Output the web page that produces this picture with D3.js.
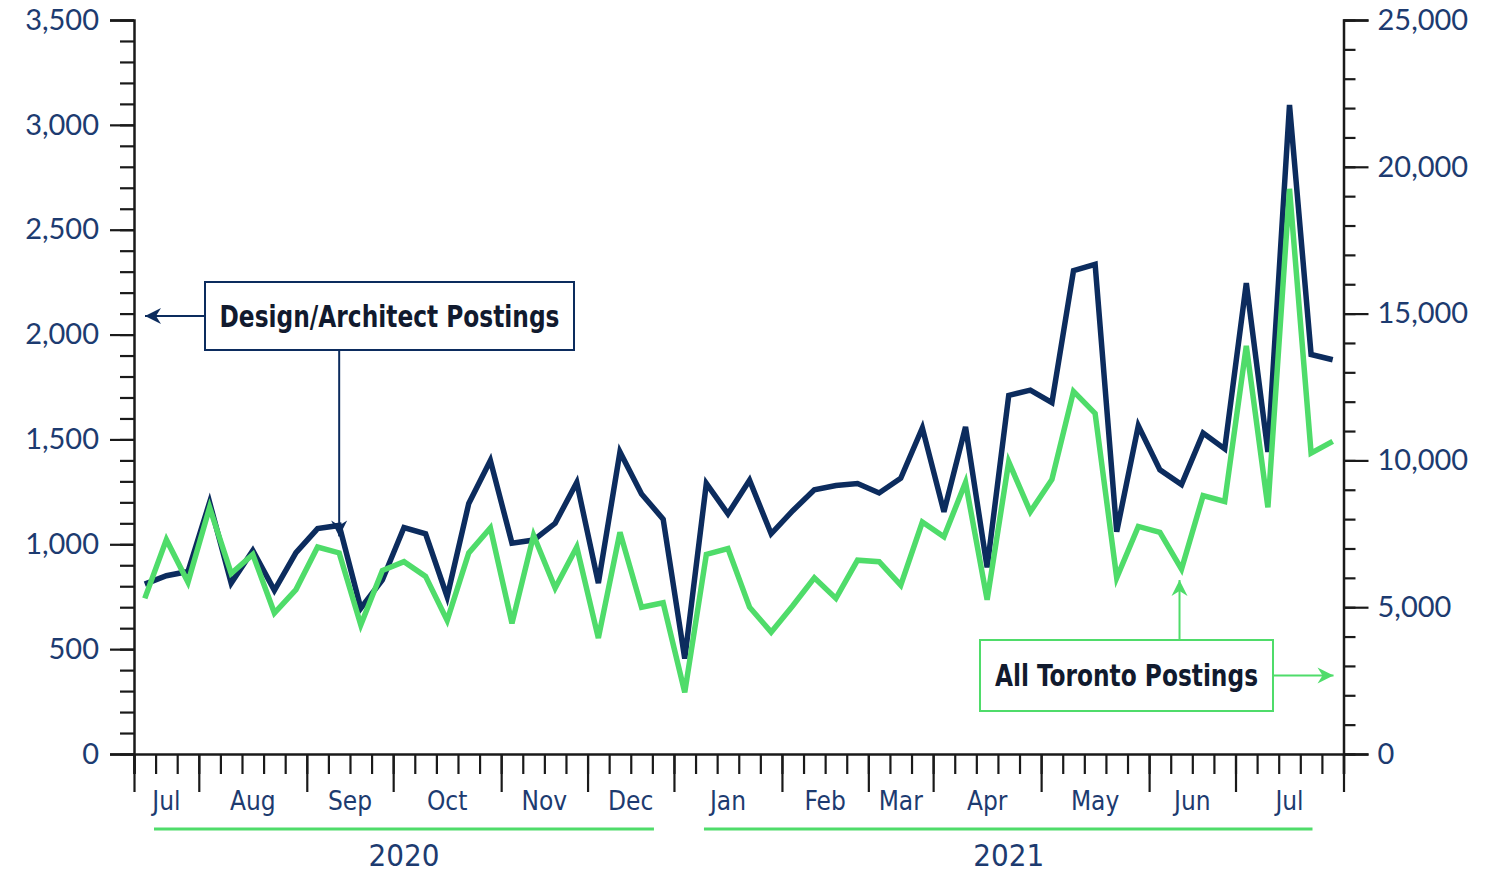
<!DOCTYPE html>
<html>
<head>
<meta charset="utf-8">
<script src="https://cdn.jsdelivr.net/npm/d3@7"></script>
<style>
  body { margin: 0; background: #fff; }
  svg { display: block; }
  .narrow { font-family: "Liberation Sans Narrow", "DejaVu Sans Condensed", "Liberation Sans", sans-serif; font-stretch: condensed; }
</style>
</head>
<body>
<svg></svg>
<script>
// months shown on the axis and how many weekly points each one holds
var monthNames = ["Jul", "Aug", "Sep", "Oct", "Nov", "Dec", "Jan", "Feb", "Mar", "Apr", "May", "Jun", "Jul"];
var monthWeeks = [3, 5, 4, 5, 4, 4, 5, 4, 3, 5, 5, 4, 5];
var yearNames = ["2020", "2021"];
var yearMonths = [6, 7];

// weekly postings, Design/Architect (left axis)
var designPostings = [810, 850, 870, 1200, 815, 970, 780, 960, 1075, 1090,
    695, 830, 1080, 1050, 750, 1195, 1400, 1005, 1020, 1100,
    1295, 815, 1440, 1240, 1120, 455, 1290, 1145, 1305, 1050,
    1160, 1260, 1280, 1290, 1245, 1315, 1555, 1155, 1560, 890,
    1710, 1735, 1675, 2305, 2335, 1060, 1565, 1355, 1285, 1530,
    1455, 2245, 1440, 3095, 1905, 1880];

// weekly postings, all of Toronto (right axis)
var torontoPostings = [5300, 7300, 5850, 8400, 6150, 6800, 4800, 5600, 7050, 6850,
    4400, 6250, 6550, 6050, 4550, 6850, 7700, 4450, 7450, 5650,
    7050, 3950, 7550, 5000, 5150, 2100, 6800, 7000, 5000, 4150,
    5050, 6000, 5300, 6600, 6550, 5750, 7900, 7400, 9250, 5250,
    9950, 8250, 9350, 12350, 11600, 6000, 7750, 7550, 6300, 8800,
    8600, 13900, 8400, 19250, 10250, 10650];

var leftTicks = [0, 500, 1000, 1500, 2000, 2500, 3000, 3500];
var rightTicks = [0, 5000, 10000, 15000, 20000, 25000];

var navy = "#0c2c5e",
    green = "#4fdc6a",
    labelColor = "#1d3b70";

var width = 1496, height = 873;
var plot = { left: 134, right: 1343.5, top: 20, bottom: 754 };

var svg = d3.select("svg").attr("width", width).attr("height", height);
svg.append("rect").attr("width", width).attr("height", height).attr("fill", "#fff");

var nWeeks = designPostings.length;

// x: week edges on a linear scale, points sit in the middle of each week
var xEdge = d3.scaleLinear().domain([0, nWeeks]).range([plot.left, plot.right]);
var xPoint = i => xEdge(i + 0.5);

var yLeft = d3.scaleLinear().domain([0, 3500]).range([plot.bottom, plot.top]);
var yRight = d3.scaleLinear().domain([0, 25000]).range([plot.bottom, plot.top]);

var fmt = d3.format(",");

// month boundaries (in weeks)
var monthEdges = [0];
monthWeeks.forEach(w => monthEdges.push(monthEdges[monthEdges.length - 1] + w));

// ---- left axis
svg.append("g")
    .attr("transform", "translate(" + plot.left + ",0)")
    .call(d3.axisLeft(yLeft).tickValues(d3.range(0, 3501, 100)).tickSize(14).tickFormat(""))
    .call(g => g.select(".domain").remove());
svg.append("g")
    .attr("class", "y-left")
    .attr("transform", "translate(" + plot.left + ",0)")
    .call(d3.axisLeft(yLeft).tickValues(leftTicks).tickSize(24).tickPadding(11).tickFormat(fmt));

// ---- right axis
svg.append("g")
    .attr("transform", "translate(" + plot.right + ",0)")
    .call(d3.axisRight(yRight).tickValues(d3.range(0, 25001, 1000)).tickSize(12).tickFormat(""))
    .call(g => g.select(".domain").remove());
svg.append("g")
    .attr("class", "y-right")
    .attr("transform", "translate(" + plot.right + ",0)")
    .call(d3.axisRight(yRight).tickValues(rightTicks).tickSize(25).tickPadding(9).tickFormat(fmt));

// ---- bottom axis: weekly ticks, longer ticks at month starts
svg.append("g")
    .attr("transform", "translate(0," + plot.bottom + ")")
    .call(d3.axisBottom(xEdge).tickValues(d3.range(0, nWeeks + 1)).tickSize(20).tickFormat(""));
svg.append("g")
    .attr("transform", "translate(0," + plot.bottom + ")")
    .call(d3.axisBottom(xEdge).tickValues(monthEdges).tickSize(38).tickFormat(""))
    .call(g => g.select(".domain").remove());

svg.selectAll(".tick line, .domain")
    .attr("stroke", "#1a1a1a")
    .attr("stroke-width", 2.2);
svg.selectAll(".domain").attr("stroke-width", 2.5);

svg.selectAll(".y-left text, .y-right text")
    .attr("fill", labelColor)
    .attr("font-family", null)
    .style("font-family", "Lato, 'Open Sans', sans-serif")
    .style("font-size", "29px");

// month labels
svg.append("g").selectAll("text")
    .data(monthNames)
    .join("text")
    .attr("class", "narrow")
    .attr("x", (d, i) => (xEdge(monthEdges[i]) + xEdge(monthEdges[i + 1])) / 2)
    .attr("y", 810)
    .attr("text-anchor", "middle")
    .attr("fill", labelColor)
    .style("font-size", "26px")
    .text(d => d);

// year spans
var yearEdges = [0];
yearMonths.forEach(m => yearEdges.push(yearEdges[yearEdges.length - 1] + m));
var yearInset = [[20, 20], [30, 31]];

var years = svg.append("g").selectAll("g")
    .data(yearNames)
    .join("g");
years.append("line")
    .attr("x1", (d, i) => xEdge(monthEdges[yearEdges[i]]) + yearInset[i][0])
    .attr("x2", (d, i) => xEdge(monthEdges[yearEdges[i + 1]]) - yearInset[i][1])
    .attr("y1", 829).attr("y2", 829)
    .attr("stroke", green)
    .attr("stroke-width", 3);
years.append("text")
    .attr("class", "narrow")
    .attr("x", (d, i) => (xEdge(monthEdges[yearEdges[i]]) + xEdge(monthEdges[yearEdges[i + 1]])) / 2)
    .attr("y", 866)
    .attr("text-anchor", "middle")
    .attr("fill", labelColor)
    .style("font-size", "31px")
    .text(d => d);

// ---- lines
var designLine = d3.line().x((d, i) => xPoint(i)).y(d => yLeft(d));
var torontoLine = d3.line().x((d, i) => xPoint(i)).y(d => yRight(d));

svg.append("path")
    .datum(designPostings)
    .attr("fill", "none")
    .attr("stroke", navy)
    .attr("stroke-width", 5.5)
    .attr("d", designLine);

svg.append("path")
    .datum(torontoPostings)
    .attr("fill", "none")
    .attr("stroke", green)
    .attr("stroke-width", 5.5)
    .attr("d", torontoLine);

// ---- annotations
var defs = svg.append("defs");
[["arrow-navy", navy], ["arrow-green", green]].forEach(function (m) {
    defs.append("marker")
        .attr("id", m[0])
        .attr("viewBox", "-18 -10 20 20")
        .attr("refX", 0).attr("refY", 0)
        .attr("markerWidth", 20).attr("markerHeight", 20)
        .attr("markerUnits", "userSpaceOnUse")
        .attr("orient", "auto")
        .append("path")
        .attr("d", "M0,0 L-16,-8 L-11,0 L-16,8 Z")
        .attr("fill", m[1]);
});

function arrow(x1, y1, x2, y2, color, id) {
    svg.append("line")
        .attr("x1", x1).attr("y1", y1).attr("x2", x2).attr("y2", y2)
        .attr("stroke", color)
        .attr("stroke-width", 2)
        .attr("marker-end", "url(#" + id + ")");
}

function label(box, text, textWidth, color) {
    svg.append("rect")
        .attr("x", box.x).attr("y", box.y).attr("width", box.w).attr("height", box.h)
        .attr("fill", "#fff")
        .attr("stroke", color)
        .attr("stroke-width", 2);
    svg.append("text")
        .attr("class", "narrow")
        .attr("x", box.x + box.w / 2)
        .attr("y", box.y + box.h / 2)
        .attr("dy", "0.36em")
        .attr("text-anchor", "middle")
        .attr("textLength", textWidth)
        .attr("lengthAdjust", "spacingAndGlyphs")
        .attr("fill", "#111a2e")
        .style("font-weight", "bold")
        .style("font-size", "30px")
        .text(text);
}

// Design/Architect box
var box1 = { x: 205, y: 282, w: 369, h: 68 };
arrow(box1.x, box1.y + box1.h / 2, plot.left + 11, box1.y + box1.h / 2, navy, "arrow-navy");
arrow(xPoint(9), box1.y + box1.h, xPoint(9), yLeft(designPostings[9]) + 11, navy, "arrow-navy");
label(box1, "Design/Architect Postings", 340, navy);

// All Toronto box
var box2 = { x: 980, y: 640, w: 293, h: 71 };
arrow(box2.x + box2.w, box2.y + box2.h / 2, plot.right - 10, box2.y + box2.h / 2, green, "arrow-green");
arrow(xPoint(48) - 2, box2.y, xPoint(48) - 2, yRight(torontoPostings[48]) + 11, green, "arrow-green");
label(box2, "All Toronto Postings", 263, green);
</script>
</body>
</html>
